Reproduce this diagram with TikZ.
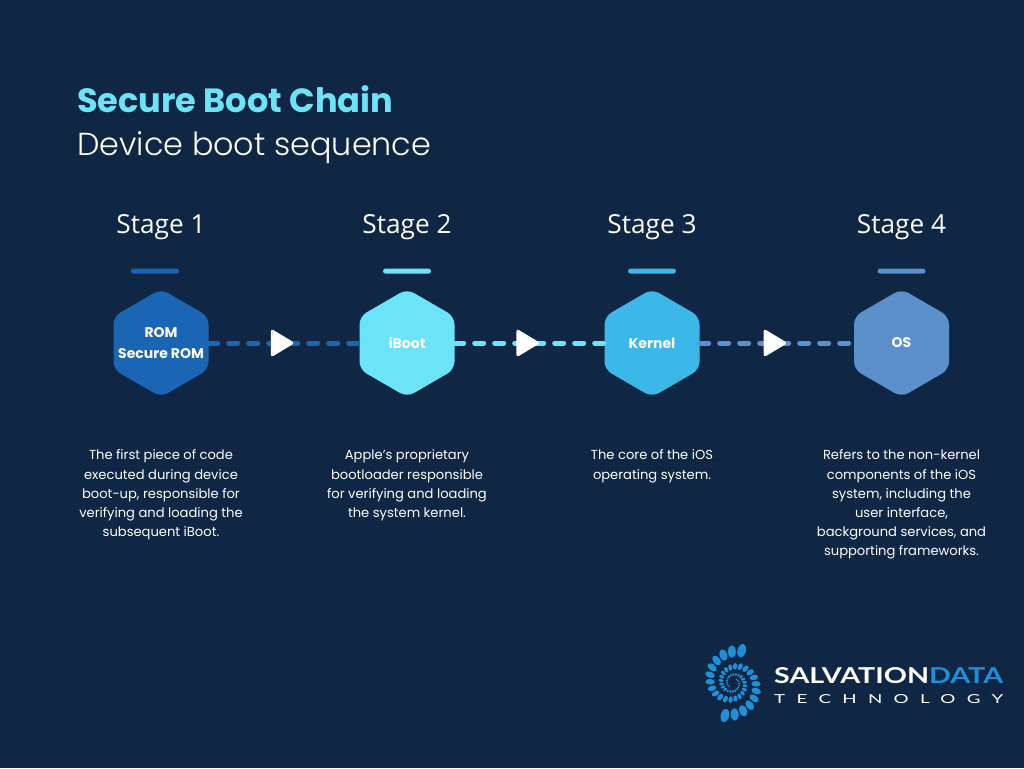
\documentclass[tikz,border=0pt]{standalone}
\usepackage{fontspec}
\setmainfont{Poppins}
\newfontfamily\lightfont{Poppins Light}
\newfontfamily\stagefont{Open Sans}
\newfontfamily\logofont{Lato}
\newfontfamily\logowide[LetterSpace=60]{Lato}
\usetikzlibrary{arrows.meta,positioning,shapes.geometric}
\definecolor{bgnavy}{HTML}{0F2744}
\definecolor{romblue}{HTML}{1B66B4}
\definecolor{bootcyan}{HTML}{6CE4F8}
\definecolor{kernblue}{HTML}{3BB8E8}
\definecolor{osblue}{HTML}{5C90CA}
\definecolor{logoblue}{HTML}{1E90D8}
\tikzset{
  hexlabel/.style={minimum width=95pt,minimum height=104pt,inner sep=0pt,align=center,
    text=white,font=\fontsize{14}{21}\selectfont\bfseries},
  stagebar/.style={minimum width=48pt,minimum height=5pt,inner sep=0pt,rounded corners=2.5pt,fill=#1},
  stagelabel/.style={text=white,inner sep=0pt,font=\stagefont\fontsize{26.2}{30}\selectfont},
  bodytext/.style={text=white,inner sep=0pt,align=center,font=\fontsize{13.1}{19.2}\selectfont},
  linkline/.style={#1,line width=5pt,line cap=round,dash pattern=on 9pt off 11pt},
  playtip/.style={isosceles triangle,isosceles triangle apex angle=62,fill=white,inner sep=0pt,
    minimum height=24pt,minimum width=25pt,rounded corners=3pt,solid,xshift=-5pt}
}
\begin{document}
\begin{tikzpicture}[x=1pt,y=-1pt]
\fill[bgnavy] (0,0) rectangle (1024,768);
\useasboundingbox (0,0) rectangle (1024,768);
% title
\node (title) [anchor=base west,inner sep=0pt,text=bootcyan,
                font=\fontsize{33.6}{40}\selectfont\bfseries] at (77,112) {Secure Boot Chain};
\node (subtitle) [anchor=base west,inner sep=0pt,text=white,
                font=\lightfont\fontsize{31.8}{40}\selectfont] at (77,155) {Device boot sequence};
% hexagons
\foreach \nm/\cx/\col/\txt in {rom/161/romblue/{ROM\\Secure ROM},iboot/407/bootcyan/{iBoot},
                               kernel/652/kernblue/{Kernel},os/901.5/osblue/{OS}} {
  \fill[\col,rounded corners=8pt] ({\cx},289) -- ({\cx+47.5},316.5) -- ({\cx+47.5},369.5)
        -- ({\cx},397) -- ({\cx-47.5},369.5) -- ({\cx-47.5},316.5) -- cycle;
  \node (\nm) [hexlabel] at (\cx,343) {\txt};
}
% links
\draw[linkline=romblue]  (rom) -- node (tipa) [playtip] {} (iboot);
\draw[linkline=bootcyan] (iboot) -- node (tipb) [playtip] {} (kernel);
\draw[linkline=osblue]   (kernel) -- node (tipc) [playtip] {} (os);
% stage headings
\node (bar1) [stagebar=romblue,above=17pt of rom,xshift=-6pt] {};
\node (bar2) [stagebar=bootcyan,above=17pt of iboot] {};
\node (bar3) [stagebar=kernblue,above=17pt of kernel] {};
\node (bar4) [stagebar=osblue,above=17pt of os] {};
\node (st1) [stagelabel,anchor=base] at ([yshift=57pt]rom.north) {Stage 1};
\node (st2) [stagelabel,anchor=base] at ([yshift=57pt]iboot.north) {Stage 2};
\node (st3) [stagelabel,anchor=base] at ([yshift=57pt]kernel.north) {Stage 3};
\node (st4) [stagelabel,anchor=base] at ([yshift=57pt]os.north) {Stage 4};
% descriptions
\node (txt1) [bodytext,below=54.5pt of rom] {The first piece of code\\executed during device\\boot-up, responsible for\\verifying and loading the\\subsequent iBoot.};
\node (txt2) [bodytext,below=54.5pt of iboot] {Apple's proprietary\\bootloader responsible\\for verifying and loading\\the system kernel.};
\node (txt3) [bodytext,below=54.5pt of kernel] {The core of the iOS\\operating system.};
\node (txt4) [bodytext,below=54.5pt of os] {Refers to the non-kernel\\components of the iOS\\system, including the\\user interface,\\background services, and\\supporting frameworks.};
% logo
\foreach \arm in {75,256} {
  \foreach \i in {0,...,30} {
    \pgfmathsetmacro{\rr}{33.5*exp(-0.0037*\i*17)}
    \pgfmathsetmacro{\aa}{\arm+\i*17}
    \pgfmathsetmacro{\px}{733+\rr*cos(\aa)}
    \pgfmathsetmacro{\py}{683-\rr*sin(\aa)}
    \fill[logoblue,shift={(\px,\py)},rotate=\aa]
        (0,0) ellipse ({0.2*\rr pt} and {0.125*\rr pt});
  }
}
\node (logotop) [anchor=south west,inner sep=0pt,text=white] at (774,684)
    {\resizebox{229pt}{16pt}{\logofont\bfseries SALVATION\textcolor{logoblue}{DATA}}};
\node (logobot) [anchor=south west,inner sep=0pt,text=white] at (774,704)
    {\resizebox{229pt}{9pt}{\logowide TECHNOLOGY}};
\end{tikzpicture}
\end{document}
